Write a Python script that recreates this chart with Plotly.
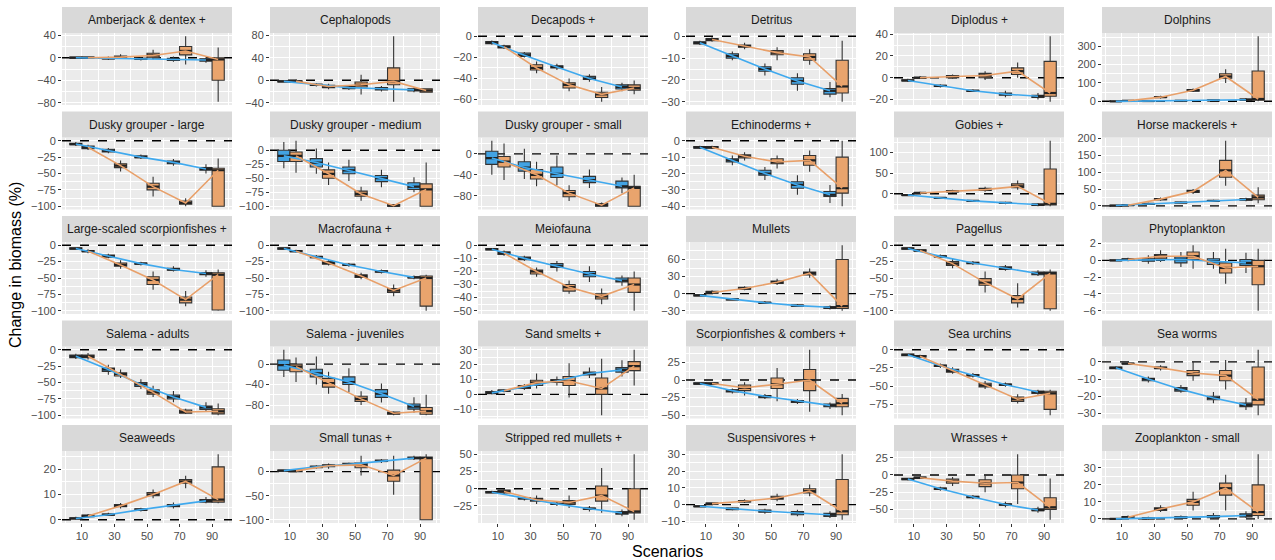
import plotly.graph_objects as go

# Scenario levels on the x axis
scenarios = [10, 30, 50, 70, 90]

groups = [
    "Amberjack & dentex +", "Cephalopods", "Decapods +", "Detritus", "Diplodus +", "Dolphins",
    "Dusky grouper - large", "Dusky grouper - medium", "Dusky grouper - small", "Echinoderms +", "Gobies +", "Horse mackerels +",
    "Large-scaled scorpionfishes +", "Macrofauna +", "Meiofauna", "Mullets", "Pagellus", "Phytoplankton",
    "Salema - adults", "Salema - juveniles", "Sand smelts +", "Scorpionfishes & combers +", "Sea urchins", "Sea worms",
    "Seaweeds", "Small tunas +", "Stripped red mullets +", "Suspensivores +", "Wrasses +", "Zooplankton - small",
]

y_ticks = [
    [-80, -40, 0, 40], [-40, 0, 40, 80], [-60, -40, -20, 0], [-30, -20, -10, 0], [-20, 0, 20, 40], [0, 100, 200, 300],
    [-100, -75, -50, -25, 0], [-100, -75, -50, -25, 0], [-80, -40, 0], [-40, -30, -20, -10, 0], [0, 50, 100], [0, 50, 100, 150, 200],
    [-100, -75, -50, -25, 0], [-100, -75, -50, -25, 0], [-50, -40, -30, -20, -10, 0], [-30, 0, 30, 60], [-100, -75, -50, -25, 0], [-6, -4, -2, 0, 2],
    [-100, -75, -50, -25, 0], [-80, -40, 0], [-10, 0, 10, 20, 30], [-50, -25, 0, 25], [-75, -50, -25, 0], [-30, -20, -10, 0],
    [0, 10, 20], [-100, -50, 0], [-50, -25, 0, 25, 50], [-10, 0, 10, 20, 30], [-50, -25, 0, 25], [0, 10, 20, 30],
]

# Box statistics per group and scenario: (lower whisker, q1, median, q3, upper whisker)
boxes_blue = [
    [(-2, -1, 0, 1, 2), (-4, -2, -1, 0, 2), (-5, -3, -2, -1, 1), (-7, -5, -3, -1, 2), (-9, -6, -4, -2, 1)],
    [(-4, -3, -2, -1, 0), (-11, -9, -8, -7, -5), (-17, -15, -13, -11, -9), (-20, -17, -15, -13, -10), (-21, -19, -17, -15, -13)],
    [(-8, -7, -6, -5, -4), (-20, -19, -18, -16, -15), (-32, -30, -29, -28, -26), (-43, -41, -40, -38, -36), (-52, -50, -48, -46, -44)],
    [(-4, -3.5, -3, -2.5, -2), (-11, -10, -9, -8, -7), (-18, -16, -15, -14, -12.5), (-25, -22, -20.5, -19, -17), (-28, -26.5, -25, -24, -21)],
    [(-4, -3, -2.5, -2, -1), (-9, -8, -7.5, -7, -6), (-13, -12.5, -12, -11.5, -10.5), (-18, -16, -15, -14, -12), (-20, -18, -17, -16, -14)],
    [(-3, -2, -1, 0, 1), (-2, 0, 1, 2, 4), (-1, 1, 2, 4, 6), (0, 2, 4, 6, 9), (2, 5, 8, 12, 18)],
    [(-8, -6, -5, -4, -2), (-19, -17, -15, -13, -11), (-28, -26, -25, -23, -21), (-38, -35, -33, -31, -28), (-50, -45, -43, -41, -36)],
    [(-32, -20, -10, 0, 15), (-42, -30, -22, -15, 3), (-55, -42, -36, -30, -17), (-66, -56, -50, -45, -35), (-75, -70, -65, -58, -48)],
    [(-40, -20, -8, 5, 25), (-48, -33, -26, -15, 10), (-60, -45, -38, -25, -3), (-65, -55, -50, -43, -30), (-75, -65, -62, -52, -45)],
    [(-5, -4.5, -4, -3.5, -3), (-15, -13, -12, -11, -9), (-24, -21, -20, -18, -16), (-33, -29, -27, -25, -21), (-38, -34, -33, -31, -27)],
    [(-5, -4, -3, -2, -1), (-12, -11, -10, -9, -8), (-19, -18, -17, -16, -15), (-25, -23, -22, -21, -19), (-30, -28, -26, -25, -22)],
    [(-1, 0, 1, 2, 3), (3, 5, 6, 7, 9), (7, 9, 10, 11, 13), (12, 14, 15, 16, 18), (14, 17, 19, 21, 24)],
    [(-7, -6, -5, -4, -3), (-20, -18, -17, -15, -13), (-31, -29, -28, -27, -25), (-40, -38, -37, -35, -32), (-48, -45, -43, -42, -38)],
    [(-7, -6, -5, -4, -3), (-21, -19, -18, -17, -15), (-33, -31, -30, -29, -27), (-43, -41, -40, -39, -37), (-52, -50, -49, -48, -46)],
    [(-4, -3.5, -3, -2.5, -2), (-12, -11, -10, -9, -8), (-20, -17, -16, -14, -12), (-28, -24, -22, -20, -16), (-31, -28, -27, -25, -23)],
    [(-5, -4, -3, -2, -1), (-12, -11, -10, -9, -8), (-18, -17, -16, -15, -13), (-23, -22, -21, -20, -18), (-28, -26, -24, -23, -21)],
    [(-7, -6, -5, -4, -3), (-19, -18, -17, -16, -14), (-30, -28, -27, -26, -24), (-39, -37, -35, -33, -30), (-47, -45, -43, -41, -38)],
    [(-0.1, -0.05, 0, 0.05, 0.1), (-0.4, -0.1, 0.05, 0.2, 0.6), (-0.8, -0.3, 0.1, 0.4, 1.0), (-1.0, -0.5, -0.1, 0.2, 1.0), (-1.5, -0.6, -0.3, 0.1, 0.9)],
    [(-14, -12, -10, -8, -6), (-38, -33, -30, -28, -23), (-60, -56, -53, -50, -45), (-80, -75, -72, -69, -63), (-95, -91, -88, -86, -80)],
    [(-25, -12, -2, 8, 28), (-40, -25, -18, -10, 15), (-55, -40, -35, -25, -8), (-75, -65, -58, -50, -38), (-95, -88, -83, -78, -65)],
    [(0, 0.5, 1, 2, 3), (3, 4, 5, 6, 7), (6, 8, 9, 10, 12), (11, 13, 14, 15, 18), (12, 15, 16.5, 18, 23)],
    [(-7, -6, -5, -4, -3), (-19, -17, -15, -14, -12), (-27, -25, -23, -22, -20), (-34, -32, -30, -29, -27), (-41, -38, -36, -34, -32)],
    [(-9, -8, -7, -6, -5), (-25, -23, -22, -21, -19), (-38, -36, -35, -34, -32), (-51, -49, -48, -47, -45), (-62, -60, -58, -57, -55)],
    [(-4.5, -4, -3.5, -3, -2.5), (-12, -11, -10, -9.5, -8.5), (-18, -17, -16, -15, -13.5), (-24, -22, -21, -20, -17.5), (-28, -26, -25, -24, -21)],
    [(0, 0.3, 0.5, 0.8, 1.2), (1.5, 1.8, 2, 2.3, 2.8), (3.3, 3.7, 4, 4.3, 4.8), (4.5, 5.2, 5.6, 6, 6.8), (6.5, 7, 7.5, 8, 9)],
    [(0, 1, 2, 3, 4), (6, 8, 10, 11, 13), (12, 14, 15, 17, 19), (18, 21, 22, 24, 26), (24, 27, 28, 30, 33)],
    [(-7, -6, -5, -4, -3), (-17, -15, -14, -13, -11), (-25, -23, -22, -21, -19), (-33, -30, -29, -28, -25), (-40, -37, -35, -33, -30)],
    [(-1.5, -1.2, -1, -0.8, -0.5), (-3.5, -3, -2.5, -2, -1.5), (-5.5, -4.5, -3.8, -3.2, -2.5), (-7, -6, -5, -4.2, -3), (-8, -7, -6, -5.2, -4)],
    [(-8, -7, -6, -5, -4), (-23, -21, -20, -19, -17), (-35, -33, -32, -31, -29), (-47, -44, -43, -42, -39), (-55, -52, -51, -49, -46)],
    [(-0.3, -0.1, 0, 0.2, 0.4), (-0.5, 0, 0.3, 0.7, 1.2), (0, 0.4, 0.8, 1.3, 2), (0, 0.7, 1.3, 2, 3.5), (0.5, 1.2, 2, 3, 4.5)],
]

boxes_orange = [
    [(-2, -1, 0, 1, 2), (-2, 0, 1, 3, 6), (-3, 0, 4, 8, 14), (-12, 5, 12, 20, 38), (-78, -40, -3, 0, 18)],
    [(-4, -3, -2, -1, 1), (-16, -13, -11, -9, -6), (-25, -12, -8, -3, 10), (-38, -8, -2, 22, 78), (-22, -21, -18, -15, -14)],
    [(-12, -11, -10, -9, -8), (-35, -32, -30, -27, -24), (-52, -49, -46, -44, -40), (-62, -58, -55, -53, -48), (-55, -51, -49, -46, -42)],
    [(-2.5, -2, -1.5, -1, -0.5), (-6, -5, -4.5, -4, -3), (-11, -8.5, -7.5, -6.5, -5), (-13, -11, -9.5, -8, -6), (-30, -26, -23, -11, -2)],
    [(-1, -0.5, 0, 0.5, 1.5), (-1, 0, 0.8, 2, 3), (-2, 0, 2, 4, 6), (0, 3, 6, 9, 14), (-22, -17, -14, 15, 38)],
    [(0, 1, 2, 3, 4), (15, 20, 22, 25, 30), (50, 55, 60, 63, 70), (100, 125, 135, 150, 175), (0, 5, 12, 165, 355)],
    [(-14, -12, -10, -8, -6), (-47, -41, -38, -35, -30), (-85, -75, -70, -65, -55), (-100, -97, -95, -92, -88), (-100, -100, -45, -42, -27)],
    [(-40, -20, -10, -3, 17), (-62, -50, -42, -35, -22), (-90, -82, -78, -73, -65), (-100, -100, -99, -97, -96), (-100, -100, -70, -60, -22)],
    [(-50, -25, -15, -5, 20), (-62, -48, -40, -30, -15), (-90, -82, -75, -70, -60), (-100, -100, -98, -95, -93), (-100, -100, -65, -62, -40)],
    [(-5, -4.5, -4, -3.5, -3), (-12, -10.5, -9.5, -8.5, -7), (-17, -14, -13, -11, -9), (-19, -15, -12, -9, -6), (-40, -32, -29, -10, 0)],
    [(0, 1, 2, 3, 5), (3, 5, 6, 8, 10), (5, 8, 10, 13, 17), (10, 15, 18, 24, 32), (-30, -27, -24, 60, 128)],
    [(0, 1, 2, 3, 5), (15, 18, 20, 22, 25), (35, 40, 43, 46, 50), (60, 85, 105, 135, 193), (8, 18, 25, 32, 55)],
    [(-12, -10, -9, -8, -6), (-36, -32, -30, -27, -23), (-68, -60, -53, -48, -40), (-93, -88, -83, -79, -70), (-100, -99, -45, -42, -37)],
    [(-11, -10, -9, -8, -7), (-31, -29, -27, -25, -22), (-52, -49, -47, -45, -42), (-78, -72, -69, -66, -60), (-100, -93, -50, -47, -45)],
    [(-8, -7, -6, -5, -4), (-24, -22, -20, -19, -17), (-37, -35, -32, -30, -27), (-45, -41, -39, -37, -33), (-50, -36, -30, -25, -20)],
    [(0, 1, 2, 4, 6), (6, 8, 9, 11, 13), (15, 18, 20, 22, 26), (28, 33, 36, 38, 44), (-30, -26, -22, 60, 85)],
    [(-10, -9, -8, -7, -6), (-35, -31, -28, -25, -20), (-72, -61, -57, -51, -40), (-95, -88, -82, -77, -58), (-100, -97, -43, -41, -37)],
    [(-0.1, 0, 0.1, 0.2, 0.3), (-0.2, 0.2, 0.5, 0.7, 1.2), (-1.0, 0.1, 0.5, 1.0, 1.8), (-2.8, -1.5, -0.9, -0.3, 1.4), (-6.0, -2.9, -0.7, 0, 1.4)],
    [(-15, -12, -10, -8, -5), (-43, -40, -37, -35, -30), (-72, -68, -65, -61, -55), (-98, -97, -95, -92, -90), (-100, -98, -94, -90, -82)],
    [(-35, -15, -5, 0, 13), (-58, -45, -37, -28, -15), (-80, -73, -68, -63, -53), (-100, -98, -96, -94, -92), (-100, -98, -92, -85, -60)],
    [(1.5, 2, 2.5, 3, 3.5), (4, 6, 8, 9.5, 14), (-2, 6, 9, 12, 21), (-14, 0, 4, 11, 24), (6, 16, 19, 22, 30)],
    [(-7, -6, -5, -4, -3), (-22, -15, -11, -7, -3), (-30, -12, -6, 3, 17), (-45, -15, 0, 15, 43), (-50, -38, -33, -26, -20)],
    [(-11, -10, -9, -8, -7), (-33, -31, -29, -27, -24), (-54, -51, -49, -46, -43), (-74, -71, -68, -65, -61), (-90, -82, -60, -57, -55)],
    [(-1.5, -1.2, -1, -0.8, -0.5), (-5, -4, -3.5, -3, -2), (-11, -8, -6.5, -5, 0), (-16, -11, -8, -5, 1), (-31, -25, -22, -3, 7)],
    [(0.8, 1.2, 1.5, 1.9, 2.3), (4.5, 5.2, 5.5, 6, 6.6), (8.5, 9.5, 10, 10.8, 12), (12.5, 14.5, 15.2, 16, 17.5), (6.5, 7, 8, 21, 26)],
    [(-1, 0, 1.5, 3, 5), (6, 10, 12, 14, 17), (-8, 8, 14, 18, 33), (-48, -20, -8, 3, 33), (-100, -100, 28, 30, 36)],
    [(-8, -6, -4, -2, 0), (-22, -18, -16, -14, -10), (-28, -23, -20, -17, -10), (-35, -18, -10, 4, 30), (-45, -35, -33, 0, 50)],
    [(0, 0.3, 0.6, 0.9, 1.2), (1, 1.6, 2, 2.5, 3.2), (2, 3.2, 4, 5, 6.5), (5, 7, 8, 9.5, 12), (-9, -6, -4, 15, 30)],
    [(-6, -5, -4, -3, -2), (-16, -12, -9, -6, -3), (-25, -17, -12, -7, 0), (-42, -20, -11, 0, 30), (-65, -50, -47, -33, -5)],
    [(0.3, 0.7, 1, 1.4, 2), (4, 5, 5.8, 6.5, 8), (5, 8, 10, 11.5, 16), (5, 14, 18, 21, 26), (0, 2, 4, 20, 38)],
]

# Styling
BLUE_FILL, BLUE_LINE = "#43A3E3", "#3FA9EE"
ORANGE_FILL, ORANGE_LINE = "#E9A46D", "#E8A06A"
EDGE = "#333333"
FONT = "Liberation Sans, Arial, sans-serif"

W, H = 1275, 560
COL_LEFT, COL_STEP, PANEL_W = 62, 208, 170
ROW_TOP, ROW_STEP, STRIP_H, PANEL_H = 7, 104.5, 26, 72
DODGE, BOX_W = 3.75, 7.5

x_lo = min(scenarios) - DODGE - BOX_W / 2
x_hi = max(scenarios) + DODGE + BOX_W / 2
x_pad = 0.05 * (x_hi - x_lo)
x_range = [x_lo - x_pad, x_hi + x_pad]
x_minor = [0, 20, 40, 60, 80, 100]

fig = go.Figure()
layout_axes = {}
strip_shapes, zero_shapes, annotations = [], [], []

for i, name in enumerate(groups):
    r, c = divmod(i, 6)
    sfx = "" if i == 0 else str(i + 1)
    xa, ya = "x" + sfx, "y" + sfx

    series = [
        (boxes_blue[i], -DODGE, BLUE_FILL, BLUE_LINE),
        (boxes_orange[i], DODGE, ORANGE_FILL, ORANGE_LINE),
    ]
    for stats, off, fill, _ in series:
        fig.add_trace(go.Box(
            x=[s + off for s in scenarios],
            lowerfence=[b[0] for b in stats],
            q1=[b[1] for b in stats],
            median=[b[2] for b in stats],
            q3=[b[3] for b in stats],
            upperfence=[b[4] for b in stats],
            width=BOX_W, fillcolor=fill, whiskerwidth=0,
            line=dict(color=EDGE, width=1.1),
            boxpoints=False, showlegend=False, hoverinfo="skip",
            xaxis=xa, yaxis=ya,
        ))

    # thicker median bars across each box
    mx, my = [], []
    for stats, off, _, _ in series:
        for s, b in zip(scenarios, stats):
            mx += [s + off - BOX_W / 2, s + off + BOX_W / 2, None]
            my += [b[2], b[2], None]
    fig.add_trace(go.Scatter(x=mx, y=my, mode="lines", line=dict(color="#222222", width=2.2),
                             showlegend=False, hoverinfo="skip", xaxis=xa, yaxis=ya))

    for stats, off, _, lc in series:
        fig.add_trace(go.Scatter(
            x=[s + off for s in scenarios], y=[b[2] for b in stats],
            mode="lines", line=dict(color=lc, width=1.6),
            showlegend=False, hoverinfo="skip", xaxis=xa, yaxis=ya,
        ))

    # free y scale: data extent plus the zero reference, padded by 5%
    both = boxes_blue[i] + boxes_orange[i]
    vals = [b[0] for b in both] + [b[4] for b in both] + [0]
    lo, hi = min(vals), max(vals)
    pad = 0.05 * (hi - lo)
    ticks = y_ticks[i]
    step = ticks[1] - ticks[0]
    minor = [t - step / 2 for t in ticks] + [ticks[-1] + step / 2]

    left = COL_LEFT + c * COL_STEP
    top = ROW_TOP + r * ROW_STEP
    dx = [left / W, (left + PANEL_W) / W]
    strip_y = [1 - (top + STRIP_H) / H, 1 - top / H]
    panel_y = [1 - (top + STRIP_H + PANEL_H) / H, strip_y[0]]

    bottom = r == 4
    layout_axes["xaxis" + sfx] = dict(
        domain=dx, anchor=ya, range=x_range, tickvals=scenarios,
        showticklabels=bottom, ticks="outside" if bottom else "",
        ticklen=3, tickcolor=EDGE, tickwidth=1,
        tickfont=dict(family=FONT, size=11, color="#4D4D4D"),
        showgrid=True, gridcolor="white", gridwidth=1.2,
        minor=dict(tickvals=x_minor, showgrid=True, gridcolor="white", gridwidth=0.6, ticks=""),
        zeroline=False, showline=False, automargin=False, fixedrange=True,
    )
    layout_axes["yaxis" + sfx] = dict(
        domain=panel_y, anchor=xa, range=[lo - pad, hi + pad], tickvals=ticks,
        ticks="outside", ticklen=3, tickcolor=EDGE, tickwidth=1,
        tickfont=dict(family=FONT, size=11, color="#4D4D4D"),
        showgrid=True, gridcolor="white", gridwidth=1.2,
        minor=dict(tickvals=minor, showgrid=True, gridcolor="white", gridwidth=0.6, ticks=""),
        zeroline=False, showline=False, automargin=False, fixedrange=True,
    )

    # strip with the facet label
    strip_shapes.append(dict(type="rect", xref="paper", yref="paper",
                             x0=dx[0], x1=dx[1], y0=strip_y[0], y1=strip_y[1],
                             fillcolor="#D9D9D9", line=dict(width=0), layer="below"))
    annotations.append(dict(text=name, xref="paper", yref="paper",
                            x=(dx[0] + dx[1]) / 2, y=(strip_y[0] + strip_y[1]) / 2,
                            showarrow=False, xanchor="center", yanchor="middle",
                            font=dict(family=FONT, size=12, color="#1A1A1A")))
    # dashed zero reference across the panel
    zero_shapes.append(dict(type="line", xref=xa, yref=ya,
                            x0=x_range[0], x1=x_range[1], y0=0, y1=0, layer="between",
                            line=dict(color="black", width=1.4, dash="dash")))

annotations.append(dict(text="Change in biomass (%)", xref="paper", yref="paper",
                        x=15 / W, y=1 - 265 / H, textangle=-90, showarrow=False,
                        xanchor="center", yanchor="middle",
                        font=dict(family=FONT, size=16, color="black")))
annotations.append(dict(text="Scenarios", xref="paper", yref="paper",
                        x=(COL_LEFT + 5 * COL_STEP + PANEL_W + COL_LEFT) / 2 / W, y=1 - 551 / H,
                        showarrow=False, xanchor="center", yanchor="middle",
                        font=dict(family=FONT, size=16, color="black")))

fig.update_layout(
    width=W, height=H, margin=dict(l=0, r=0, t=0, b=0),
    paper_bgcolor="white", plot_bgcolor="#EBEBEB",
    boxmode="overlay", showlegend=False,
    shapes=strip_shapes + zero_shapes, annotations=annotations,
    **layout_axes,
)

fig.write_html("out.html")
